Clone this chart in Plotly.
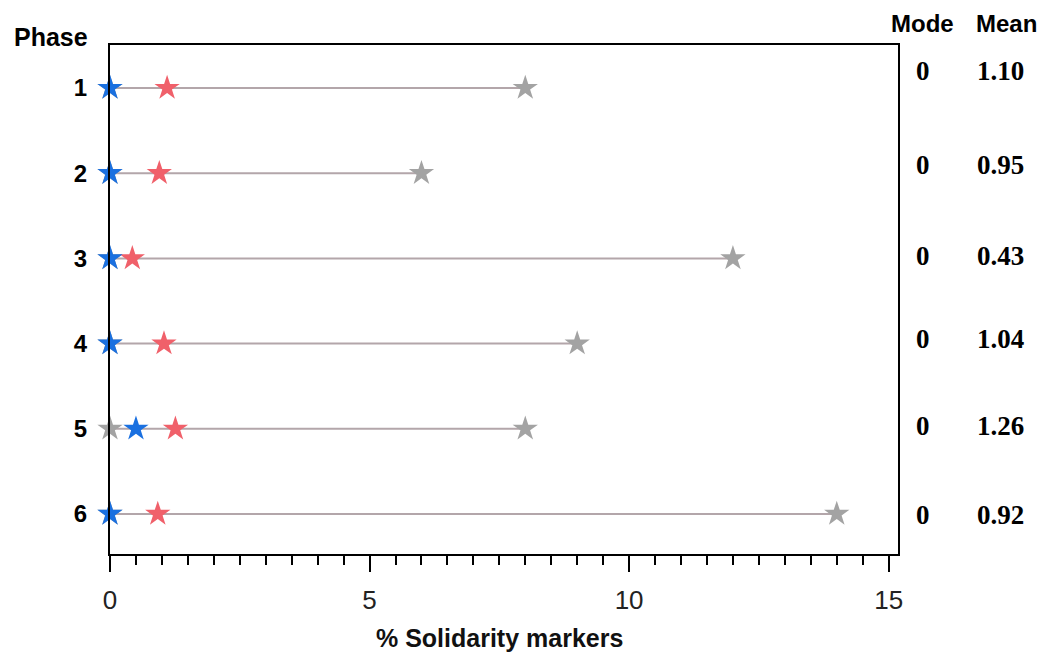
import plotly.graph_objects as go

# Phase categories and summary statistics (% solidarity markers)
phases = [1, 2, 3, 4, 5, 6]
minimum = [0, 0, 0, 0, 0, 0]
median = [0, 0, 0, 0, 0.5, 0]
mean = [1.10, 0.95, 0.43, 1.04, 1.26, 0.92]
maximum = [8, 6, 12, 9, 8, 14]
mode = [0, 0, 0, 0, 0, 0]

x_ticks = [0, 5, 10, 15]

BLUE = "#1a70e0"
RED = "#f0606a"
GREY = "#a3a3a3"
LINE = "#b3a6aa"

fig = go.Figure()

# range line for each phase, from minimum to maximum
for p, lo, hi in zip(phases, minimum, maximum):
    fig.add_trace(go.Scatter(
        x=[lo, hi], y=[p, p], mode="lines",
        line=dict(color=LINE, width=2), showlegend=False, hoverinfo="skip",
        cliponaxis=False,
    ))

star = dict(symbol="star", size=19, line=dict(width=0))

fig.add_trace(go.Scatter(x=minimum, y=phases, mode="markers", name="Minimum",
                         marker=dict(color=GREY, **star), cliponaxis=False))
fig.add_trace(go.Scatter(x=maximum, y=phases, mode="markers", name="Maximum",
                         marker=dict(color=GREY, **star), cliponaxis=False))
fig.add_trace(go.Scatter(x=mean, y=phases, mode="markers", name="Mean",
                         marker=dict(color=RED, **star), cliponaxis=False))
fig.add_trace(go.Scatter(x=median, y=phases, mode="markers", name="Median",
                         marker=dict(color=BLUE, **star), cliponaxis=False))

annotations = []

# column headers on the right
header_font = dict(family="Liberation Sans", size=24, color="black", weight="bold")
annotations.append(dict(text="Mode", xref="paper", yref="paper",
                        x=(923 - 110) / 788, y=(554 - 23) / 509,
                        xanchor="center", yanchor="middle", showarrow=False,
                        font=header_font))
annotations.append(dict(text="Mean", xref="paper", yref="paper",
                        x=(1006 - 110) / 788, y=(554 - 23) / 509,
                        xanchor="center", yanchor="middle", showarrow=False,
                        font=header_font))

# per-phase mode and mean values
value_font = dict(family="Liberation Serif", size=27, color="black", weight="bold")
row_shift = [17, 8, 2, 5, 3, -1]
for p, mo, mu, dy in zip(phases, mode, mean, row_shift):
    annotations.append(dict(text=f"{mo}", xref="paper", yref="y",
                            x=(923 - 110) / 788, y=p, yshift=dy,
                            xanchor="center", yanchor="middle", showarrow=False,
                            font=value_font))
    annotations.append(dict(text=f"{mu:.2f}", xref="paper", yref="y",
                            x=(1001 - 110) / 788, y=p, yshift=dy,
                            xanchor="center", yanchor="middle", showarrow=False,
                            font=value_font))

# axis captions
annotations.append(dict(text="Phase", xref="paper", yref="paper",
                        x=(51 - 110) / 788, y=(554 - 37) / 509,
                        xanchor="center", yanchor="middle", showarrow=False,
                        font=dict(family="Liberation Sans", size=25, color="black",
                                  weight="bold")))
annotations.append(dict(text="% Solidarity markers", xref="paper", yref="paper",
                        x=(499 - 110) / 788, y=(554 - 638) / 509,
                        xanchor="center", yanchor="middle", showarrow=False,
                        font=dict(family="Liberation Sans", size=25, color="#111",
                                  weight="bold")))

fig.update_layout(
    width=1042, height=654,
    margin=dict(l=110, r=144, t=45, b=100),
    paper_bgcolor="white", plot_bgcolor="white",
    showlegend=False,
    annotations=annotations,
    xaxis=dict(
        range=[0, 15.18], tickvals=x_ticks, ticktext=[str(v) for v in x_ticks],
        showgrid=False, zeroline=False,
        showline=True, linecolor="black", linewidth=2, mirror=True,
        ticks="outside", ticklen=16, tickwidth=2, tickcolor="black",
        minor=dict(dtick=0.5, tick0=0, ticks="outside", ticklen=9,
                   tickwidth=2, tickcolor="black", showgrid=False),
        tickfont=dict(family="Liberation Sans", size=26, color="#222"),
        ticklabelstandoff=6,
    ),
    yaxis=dict(
        range=[6.47, 0.495], tickvals=phases, ticktext=[str(p) for p in phases],
        showgrid=False, zeroline=False,
        showline=True, linecolor="black", linewidth=2, mirror=True,
        ticks="",
        tickfont=dict(family="Liberation Sans", size=24, color="black",
                      weight="bold"),
        ticklabelstandoff=16,
    ),
)

fig.write_html("out.html")
